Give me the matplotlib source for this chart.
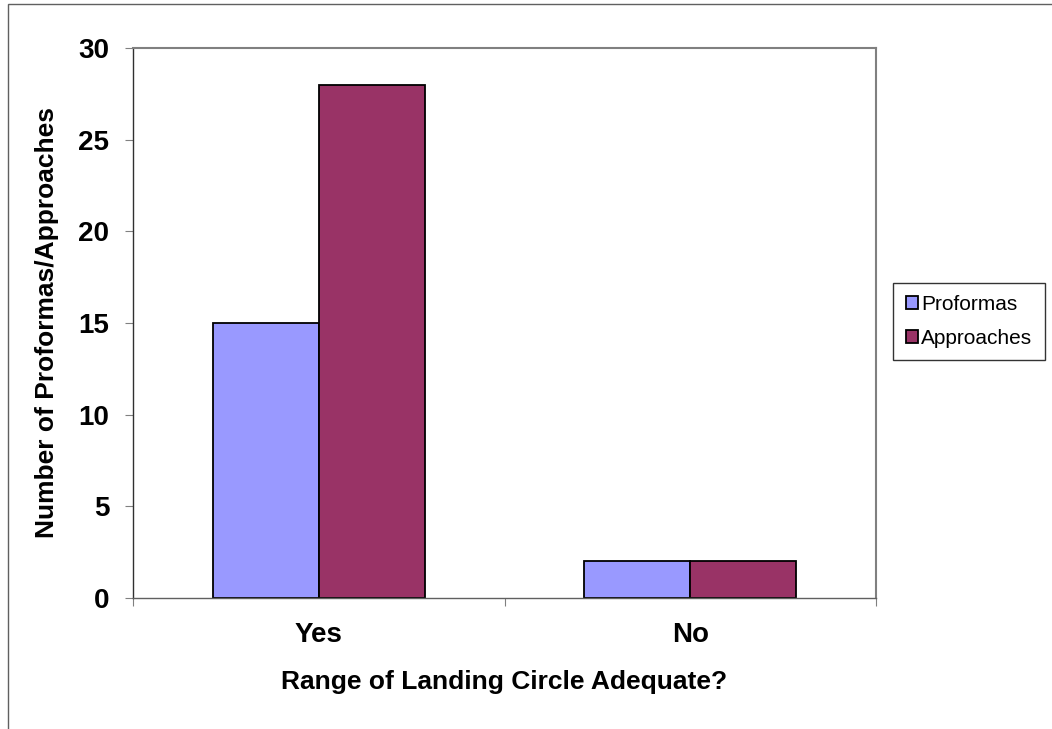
import numpy as np
import matplotlib.pyplot as plt
from matplotlib.patches import Rectangle

# Chart data
categories = ['Yes', 'No']
proformas = [15, 2]
approaches = [28, 2]
y_ticks = [0, 5, 10, 15, 20, 25, 30]

plt.rcParams['font.family'] = ['Liberation Sans', 'DejaVu Sans']

fig = plt.figure(figsize=(10.52, 7.29), dpi=100)
ax = fig.add_axes([133 / 1052, 1 - 598 / 729, (876 - 133) / 1052, (598 - 48) / 729])

# Outer chart border (only left and top visible in the original)
fig.patches.append(Rectangle((7.5 / 1052, -0.1), 1.2, (1 - 4.5 / 729) + 0.1,
                             transform=fig.transFigure, fill=False,
                             edgecolor='#606060', linewidth=1.0))

x = np.arange(len(categories))
w = 1 / 3.5  # Excel gap width 150%
ax.bar(x - w / 2, proformas, w, color='#9999FF', edgecolor='black',
       linewidth=1.3, label='Proformas')
ax.bar(x + w / 2, approaches, w, color='#993366', edgecolor='black',
       linewidth=1.3, label='Approaches')

ax.set_xlim(-0.5, 1.5)
ax.set_ylim(0, 30)
ax.set_yticks(y_ticks)
ax.set_yticklabels([str(t) for t in y_ticks], fontsize=20, fontweight='bold')
ax.set_xticks([-0.5, 0.5, 1.5])
ax.set_xticklabels([])
ax.set_xticks(x, minor=True)
ax.set_xticklabels(categories, minor=True, fontsize=20, fontweight='bold')
ax.tick_params(axis='x', which='minor', length=0, pad=17)
ax.tick_params(axis='x', which='major', direction='out', length=6, color='#808080')
ax.tick_params(axis='y', direction='out', length=6, pad=11, color='#808080')

for side in ['top', 'right']:
    ax.spines[side].set_color('#808080')
    ax.spines[side].set_linewidth(1.5)
ax.spines['left'].set_color('#303030')
ax.spines['bottom'].set_color('#606060')
ax.spines['left'].set_linewidth(1.0)
ax.spines['bottom'].set_linewidth(1.0)

ax.set_xlabel('Range of Landing Circle Adequate?', fontsize=19,
              fontweight='bold', labelpad=16)
ax.set_ylabel('Number of Proformas/Approaches', fontsize=19,
              fontweight='bold', labelpad=14)

leg = fig.legend(loc='center left', bbox_to_anchor=(893 / 1052, 1 - 321.5 / 729),
                 fontsize=15, frameon=True, fancybox=False, handlelength=0.6,
                 handleheight=0.6, handletextpad=0.15, borderpad=0.6,
                 labelspacing=0.7, borderaxespad=0)
leg.get_frame().set_edgecolor('black')
leg.get_frame().set_linewidth(1.0)

fig.savefig('out.png', dpi=100)
